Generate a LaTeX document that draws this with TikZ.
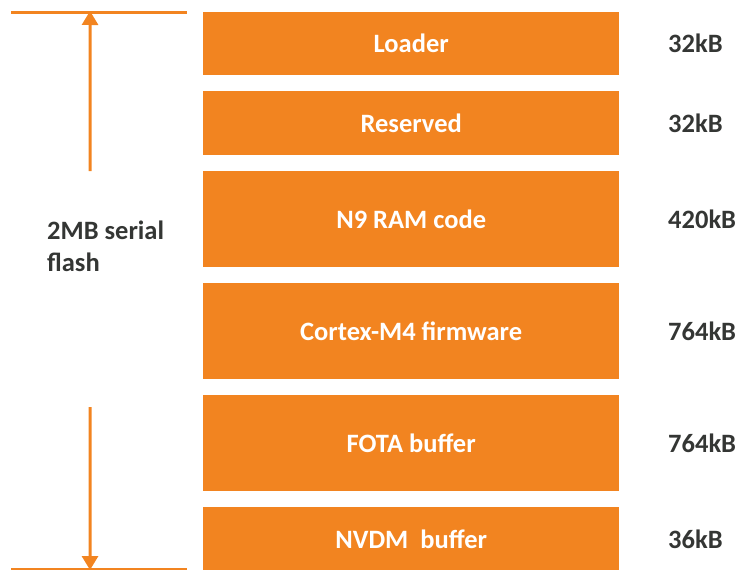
\documentclass[tikz,border=0pt]{standalone}
\usepackage{fontspec}
\setmainfont{Carlito}
\usetikzlibrary{arrows.meta}
\definecolor{flashorange}{RGB}{242,132,32}
\definecolor{labelgray}{RGB}{52,54,52}
\tikzset{
	part/.style = {fill = flashorange, draw = none, anchor = north west, minimum width = 416pt, text = white, font = \fontsize{26.5}{30}\selectfont\bfseries, inner sep = 0pt},
	size/.style = {anchor = west, text = labelgray, font = \fontsize{26.5}{30}\selectfont\bfseries, inner sep = 0pt},
	bound/.style = {draw = flashorange, line width = 3pt},
	span/.style = {-{Triangle[width = 16pt, length = 14pt]}, draw = flashorange, line width = 3pt, shorten >= -1pt}
}
\begin{document}
\begin{tikzpicture}[x = 1pt, y = -1pt]
		\useasboundingbox (0, 0) rectangle (739, 570);

		% memory map
		\node[part, minimum height = 63pt] (loader) at (203, 12) {Loader};
		\node[part, minimum height = 64pt] (reserved) at (203, 91) {Reserved};
		\node[part, minimum height = 96pt] (n9) at (203, 171) {N9 RAM code};
		\node[part, minimum height = 96pt] (cortex) at (203, 283) {Cortex-M4 f{}irmware};
		\node[part, minimum height = 96pt] (fota) at (203, 395) {FOTA buffer};
		\node[part, minimum height = 64pt] (nvdm) at (203, 507) {NVDM~~buffer};

		% sizes
		\node[size] (szloader) at (668, 43.5) {32kB};
		\node[size] (szreserved) at (668, 123) {32kB};
		\node[size] (szn9) at (668, 219) {420kB};
		\node[size] (szcortex) at (668, 331) {764kB};
		\node[size] (szfota) at (668, 443) {764kB};
		\node[size] (sznvdm) at (668, 539) {36kB};

		\node[size, align = left, font = \fontsize{26.5}{32}\selectfont\bfseries] (flash) at (47, 246) {2MB serial\\flash};

		% bounds
		\draw[bound] (11, 12) -- (187, 12) coordinate[pos = 0.449] (top);
		\draw[bound] (11, 569) -- (187, 569) coordinate[pos = 0.449] (bottom);
		\coordinate (upstart) at (90, 171);
		\coordinate (downstart) at (90, 407);

		% edges
		\draw[span] (upstart) -- (top);
		\draw[span] (downstart) -- (bottom);

		\end{tikzpicture}
\end{document}
